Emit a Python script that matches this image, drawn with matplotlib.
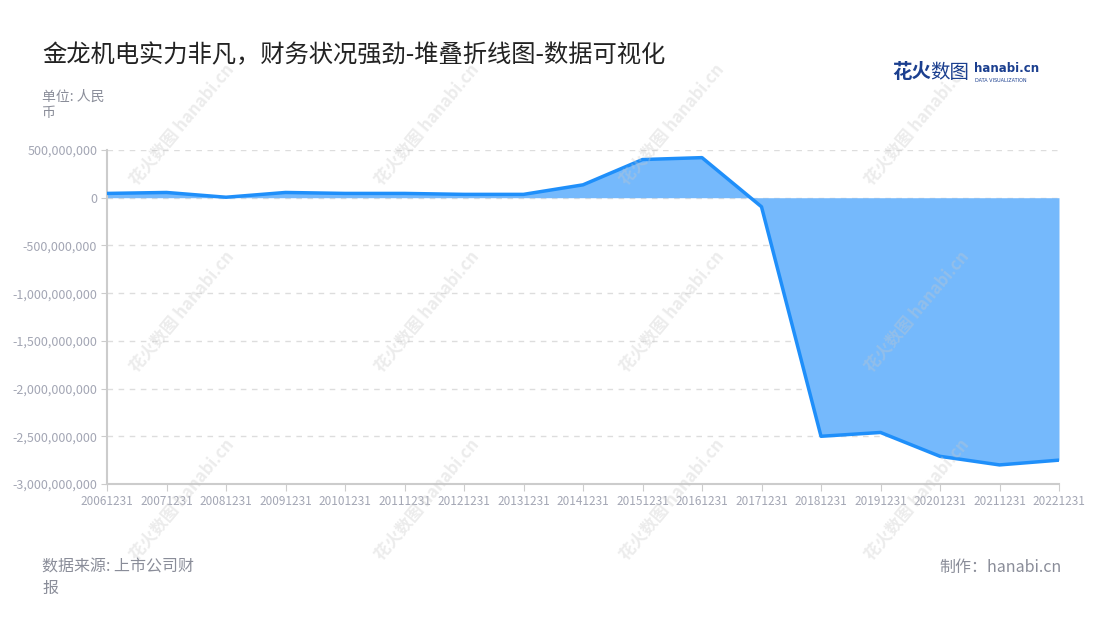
import numpy as np
import matplotlib.pyplot as plt
from matplotlib.ticker import FuncFormatter

plt.rcParams['font.family'] = ['Noto Sans CJK SC', 'DejaVu Sans']

dates = ["20061231", "20071231", "20081231", "20091231", "20101231", "20111231",
         "20121231", "20131231", "20141231", "20151231", "20161231", "20171231",
         "20181231", "20191231", "20201231", "20211231", "20221231"]
values = [45e6, 55e6, 5e6, 55e6, 45e6, 45e6, 35e6, 35e6, 135e6, 400e6, 420e6,
          -95e6, -2500e6, -2460e6, -2710e6, -2800e6, -2750e6]
yticks = [500e6, 0, -500e6, -1000e6, -1500e6, -2000e6, -2500e6, -3000e6]

grey = '#a3a6b4'
fig = plt.figure(figsize=(11, 6.2), dpi=100)
ax = fig.add_axes([107/1100, 1-484/620, (1059-107)/1100, (484-150)/620])

x = np.arange(len(dates))
ax.fill_between(x, values, 0, color='#75b9fc', lw=0, zorder=2)
ax.plot(x, values, color='#1f8ffa', lw=2.5, zorder=3)

ax.set_xlim(0, len(dates)-1)
ax.set_ylim(-3000e6, 500e6)
ax.set_xticks(x)
ax.set_xticklabels(dates, fontsize=8.5, color=grey)
ax.set_yticks(yticks)
ax.yaxis.set_major_formatter(FuncFormatter(lambda v, p: f"{int(v):,}"))
ax.tick_params(axis='y', labelsize=9, colors='#cccccc', labelcolor=grey, length=4, pad=3)
ax.tick_params(axis='x', colors='#cccccc', labelcolor=grey, length=5, pad=3)
ax.grid(axis='y', color='#dddddd', ls=(0, (4, 4)), lw=1, zorder=1)
for s in ['top', 'right']:
    ax.spines[s].set_visible(False)
ax.spines['left'].set_color('#cccccc')
ax.spines['left'].set_linewidth(1.5)
ax.spines['bottom'].set_color('#cccccc')
ax.spines['bottom'].set_linewidth(1.5)

# watermarks
for wx in [182, 427, 672, 917]:
    for wy in [125, 312, 500]:
        fig.text(wx/1100, 1-wy/620, "花火数图 hanabi.cn", rotation=50, fontsize=12,
                 color='#c8c8c8', alpha=0.35, ha='center', va='center',
                 weight='bold', zorder=0)

fig.text(42/1100, 1-55/620, "金龙机电实力非凡，财务状况强劲-堆叠折线图-数据可视化",
         fontsize=17.5, color='#222222', va='center')
fig.text(42/1100, 1-97/620, "单位: 人民", fontsize=10, color='#8a8d99', va='center')
fig.text(42/1100, 1-113/620, "币", fontsize=10, color='#8a8d99', va='center')
fig.text(42/1100, 1-567/620, "数据来源: 上市公司财", fontsize=11.5, color='#8a8d99', va='center')
fig.text(42/1100, 1-588/620, "报", fontsize=11.5, color='#8a8d99', va='center')
fig.text(1062/1100, 1-567/620, "制作：hanabi.cn", fontsize=11.5, color='#8a8d99',
         va='center', ha='right')
fig.text(892/1100, 1-72/620, "花火", fontsize=14, color='#1b3f8f', va='center', weight='bold')
fig.text(930/1100, 1-72/620, "数图", fontsize=14, color='#1b3f8f', va='center')
fig.text(974/1100, 1-69/620, "hanabi.cn", fontsize=8.5, color='#1b3f8f', va='center',
         weight='bold', family='DejaVu Sans')
fig.text(975/1100, 1-80/620, "DATA VISUALIZATION", fontsize=3.5, color='#1b3f8f', va='center',
         family='DejaVu Sans')

fig.savefig('out.png', dpi=100)
